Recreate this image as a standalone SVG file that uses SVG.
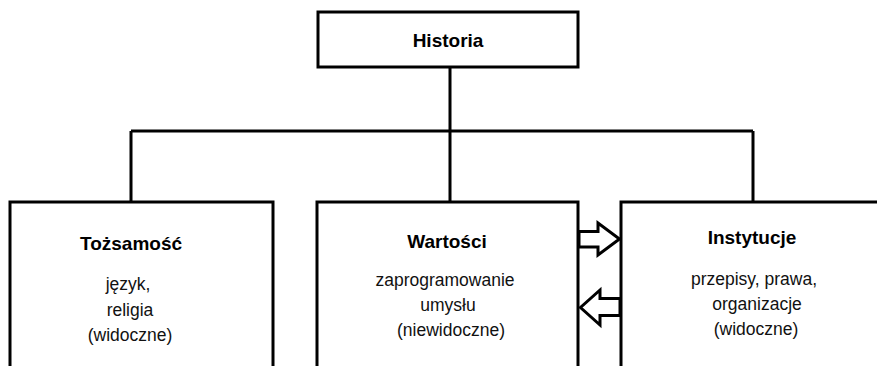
<svg xmlns="http://www.w3.org/2000/svg" width="877" height="366" viewBox="0 0 877 366">
<style>
.box{fill:#fff;stroke:#000;stroke-width:3}
.ln{fill:none;stroke:#000;stroke-width:3}
.arr{fill:#fff;stroke:#000;stroke-width:3;stroke-linejoin:miter}
.t{font-family:"Liberation Sans",Arial,sans-serif;font-size:17.5px;fill:#111;text-anchor:middle}
.b{font-family:"Liberation Sans",Arial,sans-serif;font-size:19px;font-weight:bold;fill:#000;text-anchor:middle}
</style>
<rect width="877" height="366" fill="#fff"/>
<g id="connectors">
<path class="ln" d="M450 67V131M131 131H753M131 131V202M450 131V202M753 131V202"/>
<path id="arrow-right" class="arr" d="M579 231.5H598V223L619.5 239L598 255V247H579Z"/>
<path id="arrow-left" class="arr" d="M620 298.5H600V290L580.5 307.5L600 325V315.5H620Z"/>
</g>
<g id="historia">
<rect class="box" x="318" y="12" width="260" height="55"/>
<text class="b" x="448" y="47">Historia</text>
</g>
<g id="tozsamosc">
<rect class="box" x="10" y="202" width="263" height="180"/>
<text class="b" x="131" y="250">Tożsamość</text>
<text class="t" x="128" y="290">język,</text>
<text class="t" x="130" y="316">religia</text>
<text class="t" x="130" y="341">(widoczne)</text>
</g>
<g id="wartosci">
<rect class="box" x="317" y="202" width="261" height="180"/>
<text class="b" x="447" y="248">Wartości</text>
<text class="t" x="445" y="286">zaprogramowanie</text>
<text class="t" x="448" y="311">umysłu</text>
<text class="t" x="451" y="336">(niewidoczne)</text>
</g>
<g id="instytucje">
<rect class="box" x="621" y="202" width="280" height="180"/>
<text class="b" x="752" y="244">Instytucje</text>
<text class="t" x="754" y="285">przepisy, prawa,</text>
<text class="t" x="757" y="310">organizacje</text>
<text class="t" x="756" y="335">(widoczne)</text>
</g>
</svg>
